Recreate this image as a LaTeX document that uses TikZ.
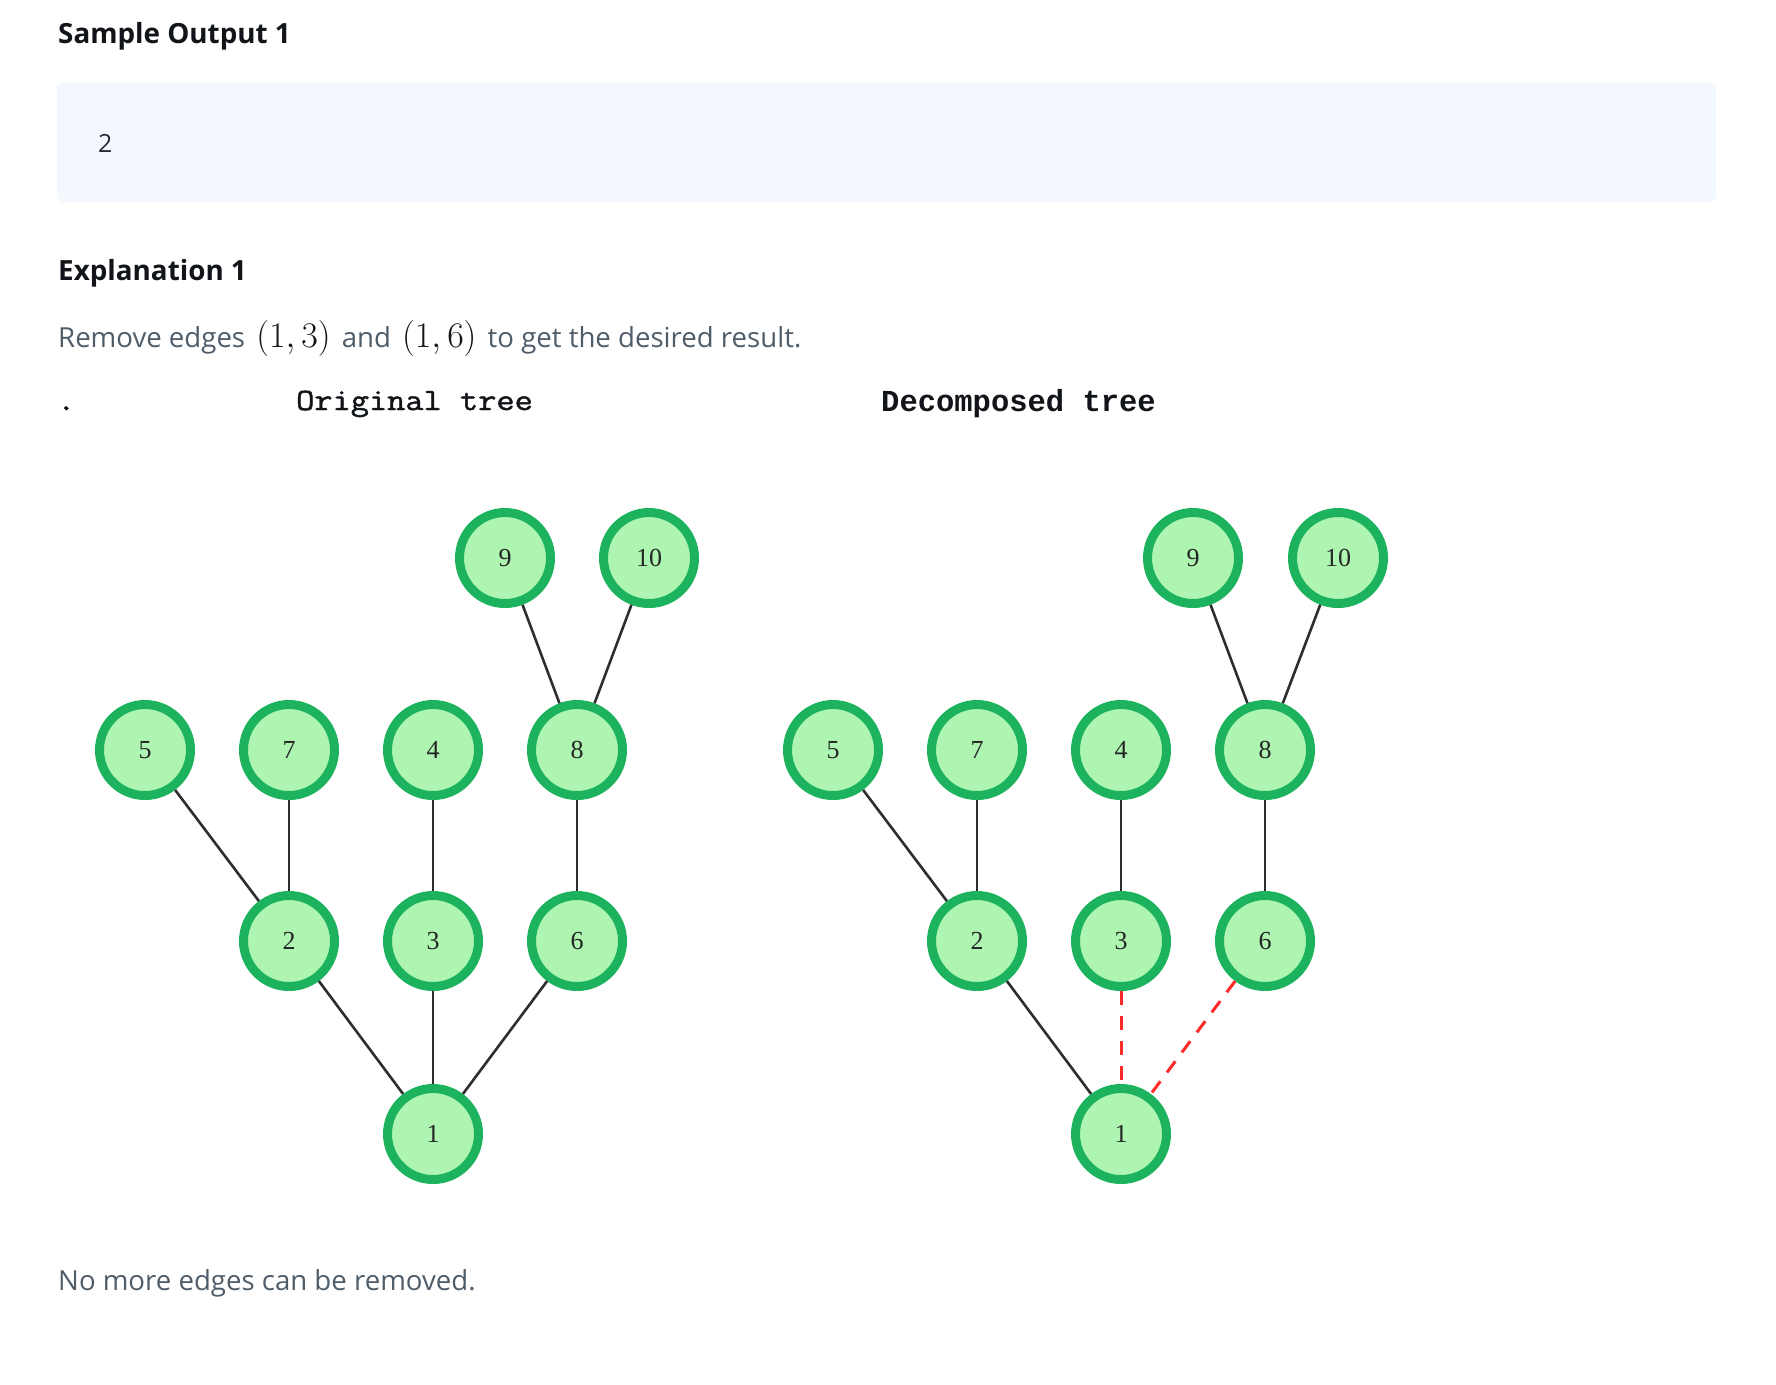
\RequirePackage{fix-cm}
\documentclass[tikz,border=0pt]{standalone}
\usepackage{fontspec}
\setmainfont{Open Sans}
\newfontfamily\origfont{Latin Modern Mono}[FakeBold=1.5, FakeStretch=1.14]
\newfontfamily\decofont{Liberation Mono}
\newfontfamily\nodefont{Liberation Serif}
\definecolor{heading}{HTML}{111418}
\definecolor{bodygray}{HTML}{4E5D69}
\definecolor{codebg}{HTML}{F3F8FE}
\definecolor{nodefill}{HTML}{ADF5B0}
\definecolor{nodeline}{HTML}{1DB35E}
\definecolor{edgecol}{HTML}{2E2E2E}
\definecolor{cutred}{HTML}{FF2B2B}
\newcommand{\bigmath}[1]{\hspace{4pt}\textcolor{heading}{\fontsize{36}{36}\selectfont$#1$}\hspace{4pt}}
\tikzset{
  tnode/.style={circle, draw=nodeline, fill=nodefill, line width=9pt, minimum size=91pt, inner sep=0pt,
    font=\nodefont\fontsize{26}{26}\selectfont, text=black!85},
  treeedge/.style={draw=edgecol, line width=2.6pt},
  cutedge/.style={draw=cutred, line width=3pt, dash pattern=on 14pt off 11pt},
  headtxt/.style={anchor=base west, inner sep=0pt, text=heading, font=\bfseries\fontsize{27.8}{32}\selectfont},
  bodytxt/.style={anchor=base west, inner sep=0pt, text=bodygray, font=\fontsize{27.6}{32}\selectfont},
  titletxt/.style={anchor=base west, inner sep=0pt, text=heading}
}
\begin{document}
\begin{tikzpicture}[x=1pt, y=-1pt]
\useasboundingbox[fill=white] (0,0) rectangle (1776,1384);
% texts
\node[headtxt] (hout) at (58,43) {Sample Output 1};
\node[fill=codebg, rounded corners=7pt, minimum width=1659pt, minimum height=120pt, anchor=north west, inner sep=0pt] (codebox) at (57,82) {};
\node[anchor=base west, inner sep=0pt, text=heading!90, font=\fontsize{25}{30}\selectfont] (ans) at (98,152.5) {2};
\node[headtxt] (hexp) at (58,280) {Explanation 1};
\node[bodytxt] (expl) at (58,347) {Remove edges \bigmath{(1,3)} and \bigmath{(1,6)} to get the desired result.};
\node[titletxt, font=\origfont\fontsize{31}{31}\selectfont] (dot) at (57,410) {.};
\node[titletxt, font=\origfont\fontsize{31}{31}\selectfont] (torig) at (296,410) {Original tree};
\node[titletxt, font=\decofont\bfseries\fontsize{30.5}{31}\selectfont] (tdec) at (881,411) {Decomposed tree};
\node[bodytxt] (nomore) at (58,1290) {No more edges can be removed.};
% left tree
\node[tnode] (L9) at (505,558) {9};
\node[tnode] (L10) at (649,558) {10};
\node[tnode] (L5) at (145,750) {5};
\node[tnode] (L7) at (289,750) {7};
\node[tnode] (L4) at (433,750) {4};
\node[tnode] (L8) at (577,750) {8};
\node[tnode] (L2) at (289,941) {2};
\node[tnode] (L3) at (433,941) {3};
\node[tnode] (L6) at (577,941) {6};
\node[tnode] (L1) at (433,1134) {1};
\draw[treeedge] (L9) -- (L8);
\draw[treeedge] (L10) -- (L8);
\draw[treeedge] (L5) -- (L2);
\draw[treeedge] (L7) -- (L2);
\draw[treeedge] (L4) -- (L3);
\draw[treeedge] (L8) -- (L6);
\draw[treeedge] (L2) -- (L1);
\draw[treeedge] (L3) -- (L1);
\draw[treeedge] (L6) -- (L1);
% right tree
\node[tnode] (R9) at (1193,558) {9};
\node[tnode] (R10) at (1338,558) {10};
\node[tnode] (R5) at (833,750) {5};
\node[tnode] (R7) at (977,750) {7};
\node[tnode] (R4) at (1121,750) {4};
\node[tnode] (R8) at (1265,750) {8};
\node[tnode] (R2) at (977,941) {2};
\node[tnode] (R3) at (1121,941) {3};
\node[tnode] (R6) at (1265,941) {6};
\node[tnode] (R1) at (1121,1134) {1};
\draw[treeedge] (R9) -- (R8);
\draw[treeedge] (R10) -- (R8);
\draw[treeedge] (R5) -- (R2);
\draw[treeedge] (R7) -- (R2);
\draw[treeedge] (R4) -- (R3);
\draw[treeedge] (R8) -- (R6);
\draw[treeedge] (R2) -- (R1);
\draw[cutedge] (R3) -- (R1);
\draw[cutedge] (R6) -- (R1);
\end{tikzpicture}
\end{document}
